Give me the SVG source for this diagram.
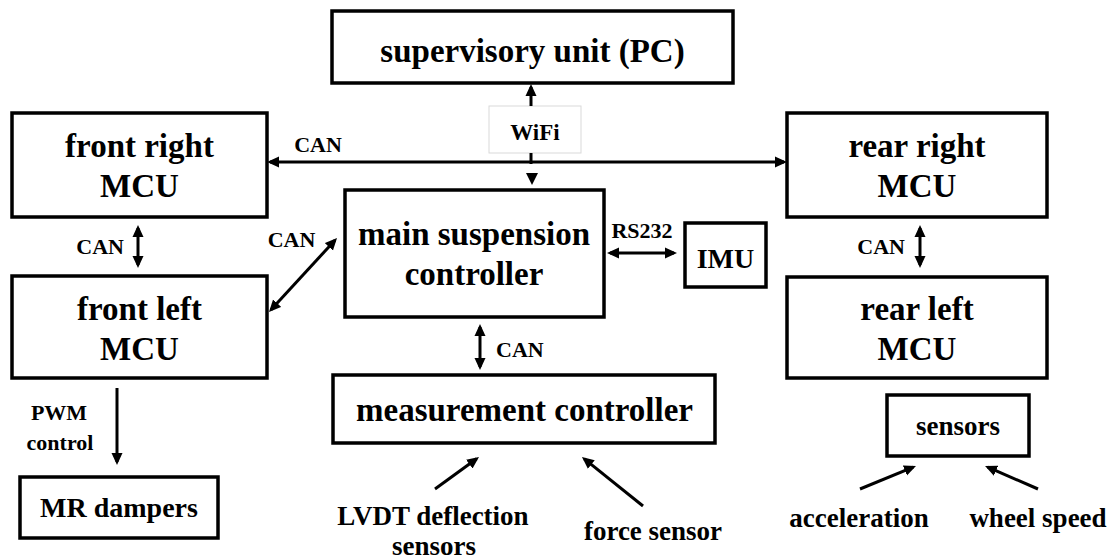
<svg xmlns="http://www.w3.org/2000/svg" width="1115" height="560" viewBox="0 0 1115 560">
  <style>
    .box { fill: #fff; stroke: #000; stroke-width: 3.5; }
    .soft { fill: #fff; stroke: #d9d9d9; stroke-width: 1; }
    .t { font-family: "Liberation Serif", "Times New Roman", serif; font-weight: bold; fill: #000; }
    .big { font-size: 33px; text-anchor: middle; }
    .mid { font-size: 27px; text-anchor: middle; }
    .sm { font-size: 22px; }
    .wire { fill: none; stroke: #000; stroke-width: 3; }
  </style>
  <defs>
    <marker id="ah" viewBox="0 0 12 12" refX="9" refY="6" markerWidth="12" markerHeight="12" markerUnits="userSpaceOnUse" orient="auto-start-reverse">
      <path d="M0,0.5 L12,6 L0,11.5 Z" fill="#000"/>
    </marker>
  </defs>
  <rect width="1115" height="560" fill="#fff"/>

  <g id="supervisory">
    <rect class="box" x="332" y="11" width="401" height="72"/>
    <text class="t big" x="532.5" y="62">supervisory unit (PC)</text>
  </g>

  <g id="wifi">
    <rect class="soft" x="489" y="106" width="92" height="47"/>
    <text class="t" x="535" y="140" font-size="23" text-anchor="middle">WiFi</text>
  </g>

  <g id="front-right">
    <rect class="box" x="12" y="113" width="255" height="104"/>
    <text class="t big" x="139.5" y="157">front right</text>
    <text class="t big" x="139.5" y="197">MCU</text>
  </g>

  <g id="front-left">
    <rect class="box" x="12" y="276" width="255" height="102"/>
    <text class="t big" x="139.5" y="320">front left</text>
    <text class="t big" x="139.5" y="360">MCU</text>
  </g>

  <g id="rear-right">
    <rect class="box" x="787" y="113" width="260" height="104"/>
    <text class="t big" x="917" y="157">rear right</text>
    <text class="t big" x="917" y="197">MCU</text>
  </g>

  <g id="rear-left">
    <rect class="box" x="787" y="277" width="260" height="101"/>
    <text class="t big" x="917" y="320">rear left</text>
    <text class="t big" x="917" y="360">MCU</text>
  </g>

  <g id="main-controller">
    <rect class="box" x="345" y="190" width="259" height="127"/>
    <text class="t big" x="474" y="245">main suspension</text>
    <text class="t big" x="474" y="285">controller</text>
  </g>

  <g id="imu">
    <rect class="box" x="685" y="223" width="81" height="64"/>
    <text class="t" x="725.5" y="268" font-size="28" text-anchor="middle">IMU</text>
  </g>

  <g id="measurement-controller">
    <rect class="box" x="333" y="375" width="382" height="68"/>
    <text class="t big" x="524.5" y="421">measurement controller</text>
  </g>

  <g id="mr-dampers">
    <rect class="box" x="20" y="477" width="198" height="61"/>
    <text class="t" x="119" y="517" font-size="28" text-anchor="middle">MR dampers</text>
  </g>

  <g id="sensors">
    <rect class="box" x="887" y="395" width="142" height="61"/>
    <text class="t mid" x="958" y="435">sensors</text>
  </g>

  <g id="inputs">
    <text class="t mid" x="433" y="525">LVDT deflection</text>
    <text class="t mid" x="434" y="555">sensors</text>
    <text class="t mid" x="653" y="540">force sensor</text>
    <text class="t mid" x="859" y="527">acceleration</text>
    <text class="t mid" x="1038" y="527">wheel speed</text>
  </g>

  <g id="connectors">
    <!-- WiFi uplink to the supervisory unit -->
    <line class="wire" x1="531" y1="106" x2="531" y2="87" marker-end="url(#ah)"/>
    <line class="wire" x1="531" y1="153" x2="531" y2="164"/>
    <path d="M526,173 L538,173 L532,185 Z" fill="#000"/>
    <!-- CAN bus between the two right MCUs -->
    <line class="wire" x1="270" y1="162" x2="784" y2="162" marker-start="url(#ah)" marker-end="url(#ah)"/>
    <text class="t sm" x="318" y="152" text-anchor="middle">CAN</text>
    <!-- front right / front left -->
    <line class="wire" x1="138" y1="228" x2="138" y2="265" marker-start="url(#ah)" marker-end="url(#ah)"/>
    <text class="t sm" x="124" y="254" text-anchor="end">CAN</text>
    <!-- rear right / rear left -->
    <line class="wire" x1="920" y1="228" x2="920" y2="265" marker-start="url(#ah)" marker-end="url(#ah)"/>
    <text class="t sm" x="905" y="254" text-anchor="end">CAN</text>
    <!-- main controller / front left -->
    <line class="wire" x1="271" y1="309.8" x2="335" y2="240.2" marker-start="url(#ah)" marker-end="url(#ah)"/>
    <text class="t sm" x="291.5" y="247" text-anchor="middle">CAN</text>
    <!-- main controller / IMU -->
    <line class="wire" x1="610" y1="253" x2="674" y2="253" marker-start="url(#ah)" marker-end="url(#ah)"/>
    <text class="t sm" x="642" y="238" text-anchor="middle">RS232</text>
    <!-- main controller / measurement controller -->
    <line class="wire" x1="480" y1="327" x2="480" y2="367" marker-start="url(#ah)" marker-end="url(#ah)"/>
    <text class="t sm" x="496" y="357">CAN</text>
    <!-- PWM control to the dampers -->
    <line class="wire" x1="117" y1="388" x2="117" y2="462" marker-end="url(#ah)"/>
    <text class="t sm" x="59" y="420" text-anchor="middle">PWM</text>
    <text class="t sm" x="60" y="450" text-anchor="middle">control</text>
    <!-- sensor inputs -->
    <line class="wire" x1="435" y1="489" x2="476.6" y2="458.8" marker-end="url(#ah)"/>
    <line class="wire" x1="643" y1="506" x2="584.3" y2="458.9" marker-end="url(#ah)"/>
    <line class="wire" x1="860" y1="489" x2="913.2" y2="467.1" marker-end="url(#ah)"/>
    <line class="wire" x1="1038" y1="489" x2="987.8" y2="467.2" marker-end="url(#ah)"/>
  </g>
</svg>
